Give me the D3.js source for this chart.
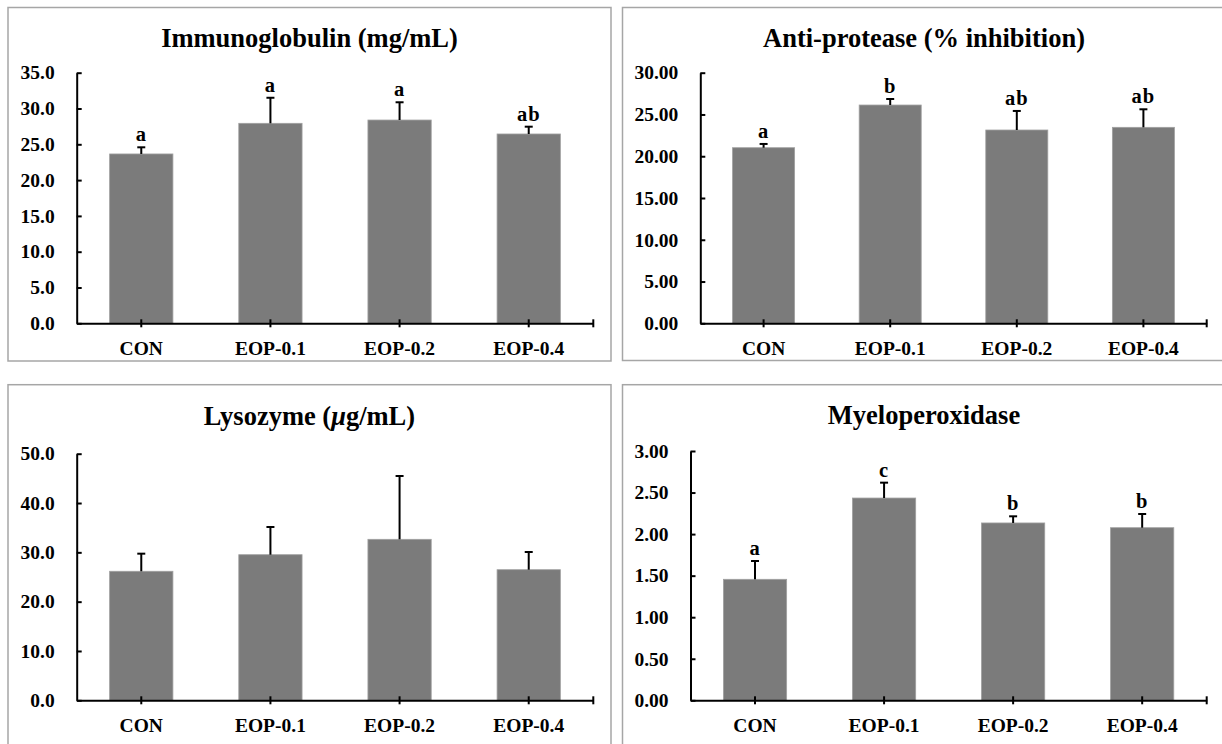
<!DOCTYPE html>
<html>
<head>
<meta charset="utf-8">
<script src="https://cdn.jsdelivr.net/npm/d3@7"></script>
<style>
  body { margin: 0; background: #fff; }
  svg { display: block; font-family: "Liberation Serif", "Times New Roman", serif; font-weight: bold; }
</style>
</head>
<body>
<svg id="chart" width="1222" height="744"></svg>
<script>
// groups on the x axis
const categories = ["CON", "EOP-0.1", "EOP-0.2", "EOP-0.4"];

// Immunoglobulin (mg/mL)
const immunoMean = [23.65, 27.93, 28.39, 26.44];
const immunoErr = [0.93, 3.57, 2.48, 1.02];
const immunoLetters = ["a", "a", "a", "ab"];
const immunoTicks = [0, 5, 10, 15, 20, 25, 30, 35];

// Anti-protease (% inhibition)
const antiMean = [21.02, 26.13, 23.14, 23.46];
const antiErr = [0.45, 0.72, 2.28, 2.16];
const antiLetters = ["a", "b", "ab", "ab"];
const antiTicks = [0, 5, 10, 15, 20, 25, 30];

// Lysozyme (ug/mL)
const lysoMean = [26.16, 29.52, 32.64, 26.48];
const lysoErr = [3.57, 5.62, 12.84, 3.59];
const lysoLetters = ["", "", "", ""];
const lysoTicks = [0, 10, 20, 30, 40, 50];

// Myeloperoxidase
const mpoMean = [1.456, 2.434, 2.134, 2.077];
const mpoErr = [0.22, 0.185, 0.08, 0.165];
const mpoLetters = ["a", "c", "b", "b"];
const mpoTicks = [0, 0.5, 1, 1.5, 2, 2.5, 3];

const svg = d3.select('#chart');

// box = panel frame, plot = axis area
const panels = [
    { title: ["Immunoglobulin (mg/mL)"], mean: immunoMean, err: immunoErr, letters: immunoLetters, ticks: immunoTicks, fmt: ".1f",
      box: [8, 7.5, 603, 353.5], plot: [76.7, 593.3, 72.7, 323.3], titleY: 47 },
    { title: ["Anti-protease (% inhibition)"], mean: antiMean, err: antiErr, letters: antiLetters, ticks: antiTicks, fmt: ".2f",
      box: [622.5, 7.5, 603, 353], plot: [700.3, 1206.7, 72.7, 323.3], titleY: 46.5 },
    { title: ["Lysozyme (", "μ", "g/mL)"], mean: lysoMean, err: lysoErr, letters: lysoLetters, ticks: lysoTicks, fmt: ".1f",
      box: [8, 384.7, 603, 380], plot: [76.7, 593.3, 453.7, 700.3], titleY: 425 },
    { title: ["Myeloperoxidase"], mean: mpoMean, err: mpoErr, letters: mpoLetters, ticks: mpoTicks, fmt: ".2f",
      box: [622.5, 384.7, 603, 380], plot: [690.5, 1206.7, 451, 700.3], titleY: 424 }
];

panels.forEach(function(p) {
    let [bx, by, bw, bh] = p.box;
    let [left, right, top, bottom] = p.plot;

    svg.append('rect')
        .attr('x', bx).attr('y', by)
        .attr('width', bw).attr('height', bh)
        .attr('fill', 'none')
        .attr('stroke', '#a6a6a6')
        .attr('stroke-width', 1.5);

    // title, the mu in lysozyme is italic
    let t = svg.append('text')
        .attr('x', bx + bw / 2)
        .attr('y', p.titleY)
        .attr('text-anchor', 'middle')
        .style('font-size', '26.5px');
    p.title.forEach(function(s) {
        t.append('tspan')
            .style('font-style', s === 'μ' ? 'italic' : 'normal')
            .text(s);
    });

    let x = d3.scaleBand()
        .domain(categories)
        .range([left, right])
        .paddingInner(0.51)
        .paddingOuter(0.255);

    let y = d3.scaleLinear()
        .domain([0, d3.max(p.ticks)])
        .range([bottom, top]);

    let rows = categories.map(function(c, i) {
        return { cat: c, mean: p.mean[i], err: p.err[i], letter: p.letters[i] };
    });

    // bars
    svg.append('g')
        .selectAll('rect')
        .data(rows)
        .enter()
        .append('rect')
        .attr('x', function(d) { return x(d.cat); })
        .attr('y', function(d) { return y(d.mean); })
        .attr('width', x.bandwidth())
        .attr('height', function(d) { return y(0) - y(d.mean); })
        .attr('fill', '#7b7b7b')
        .attr('stroke', '#a0a0a0')
        .attr('stroke-width', 0.8);

    // error bars (upper only)
    let eb = svg.append('g')
        .attr('stroke', '#000')
        .attr('stroke-width', 2);
    eb.selectAll('.stem')
        .data(rows)
        .enter()
        .append('line')
        .attr('x1', function(d) { return x(d.cat) + x.bandwidth() / 2; })
        .attr('x2', function(d) { return x(d.cat) + x.bandwidth() / 2; })
        .attr('y1', function(d) { return y(d.mean); })
        .attr('y2', function(d) { return y(d.mean + d.err); });
    eb.selectAll('.cap')
        .data(rows)
        .enter()
        .append('line')
        .attr('x1', function(d) { return x(d.cat) + x.bandwidth() / 2 - 4; })
        .attr('x2', function(d) { return x(d.cat) + x.bandwidth() / 2 + 4; })
        .attr('y1', function(d) { return y(d.mean + d.err); })
        .attr('y2', function(d) { return y(d.mean + d.err); });

    // significance letters
    svg.append('g')
        .selectAll('text')
        .data(rows)
        .enter()
        .append('text')
        .attr('x', function(d) { return x(d.cat) + x.bandwidth() / 2; })
        .attr('y', function(d) { return y(d.mean + d.err) - 6; })
        .attr('text-anchor', 'middle')
        .style('font-size', '20.5px')
        .style('letter-spacing', '1px')
        .text(function(d) { return d.letter; });

    // y axis, ticks pointing inward
    let yAxis = svg.append('g')
        .attr('transform', `translate(${left},0)`)
        .call(d3.axisLeft(y).tickValues(p.ticks).tickFormat(d3.format(p.fmt)).tickSizeInner(-5).tickSizeOuter(0).tickPadding(22));
    yAxis.select('.domain').attr('stroke-width', 2);
    yAxis.selectAll('.tick line').attr('stroke-width', 2);
    yAxis.selectAll('text')
        .style('font-size', '19.5px')
        .style('font-family', '"Liberation Serif", serif')
        .style('font-weight', 'bold')
        .attr('fill', '#000');

    // x axis, crossing ticks at group centres and at the far end
    let xAxis = svg.append('g')
        .attr('transform', `translate(0,${bottom})`)
        .call(d3.axisBottom(x).tickSizeInner(4).tickSizeOuter(0).tickPadding(14));
    xAxis.select('.domain').attr('stroke-width', 2);
    xAxis.selectAll('.tick line').attr('y1', -4).attr('stroke-width', 2);
    xAxis.append('line')
        .attr('x1', right).attr('x2', right)
        .attr('y1', -4).attr('y2', 4)
        .attr('stroke', '#000')
        .attr('stroke-width', 2);
    xAxis.selectAll('text')
        .style('font-size', '19.5px')
        .style('font-family', '"Liberation Serif", serif')
        .style('font-weight', 'bold')
        .attr('fill', '#000');
});
</script>
</body>
</html>
